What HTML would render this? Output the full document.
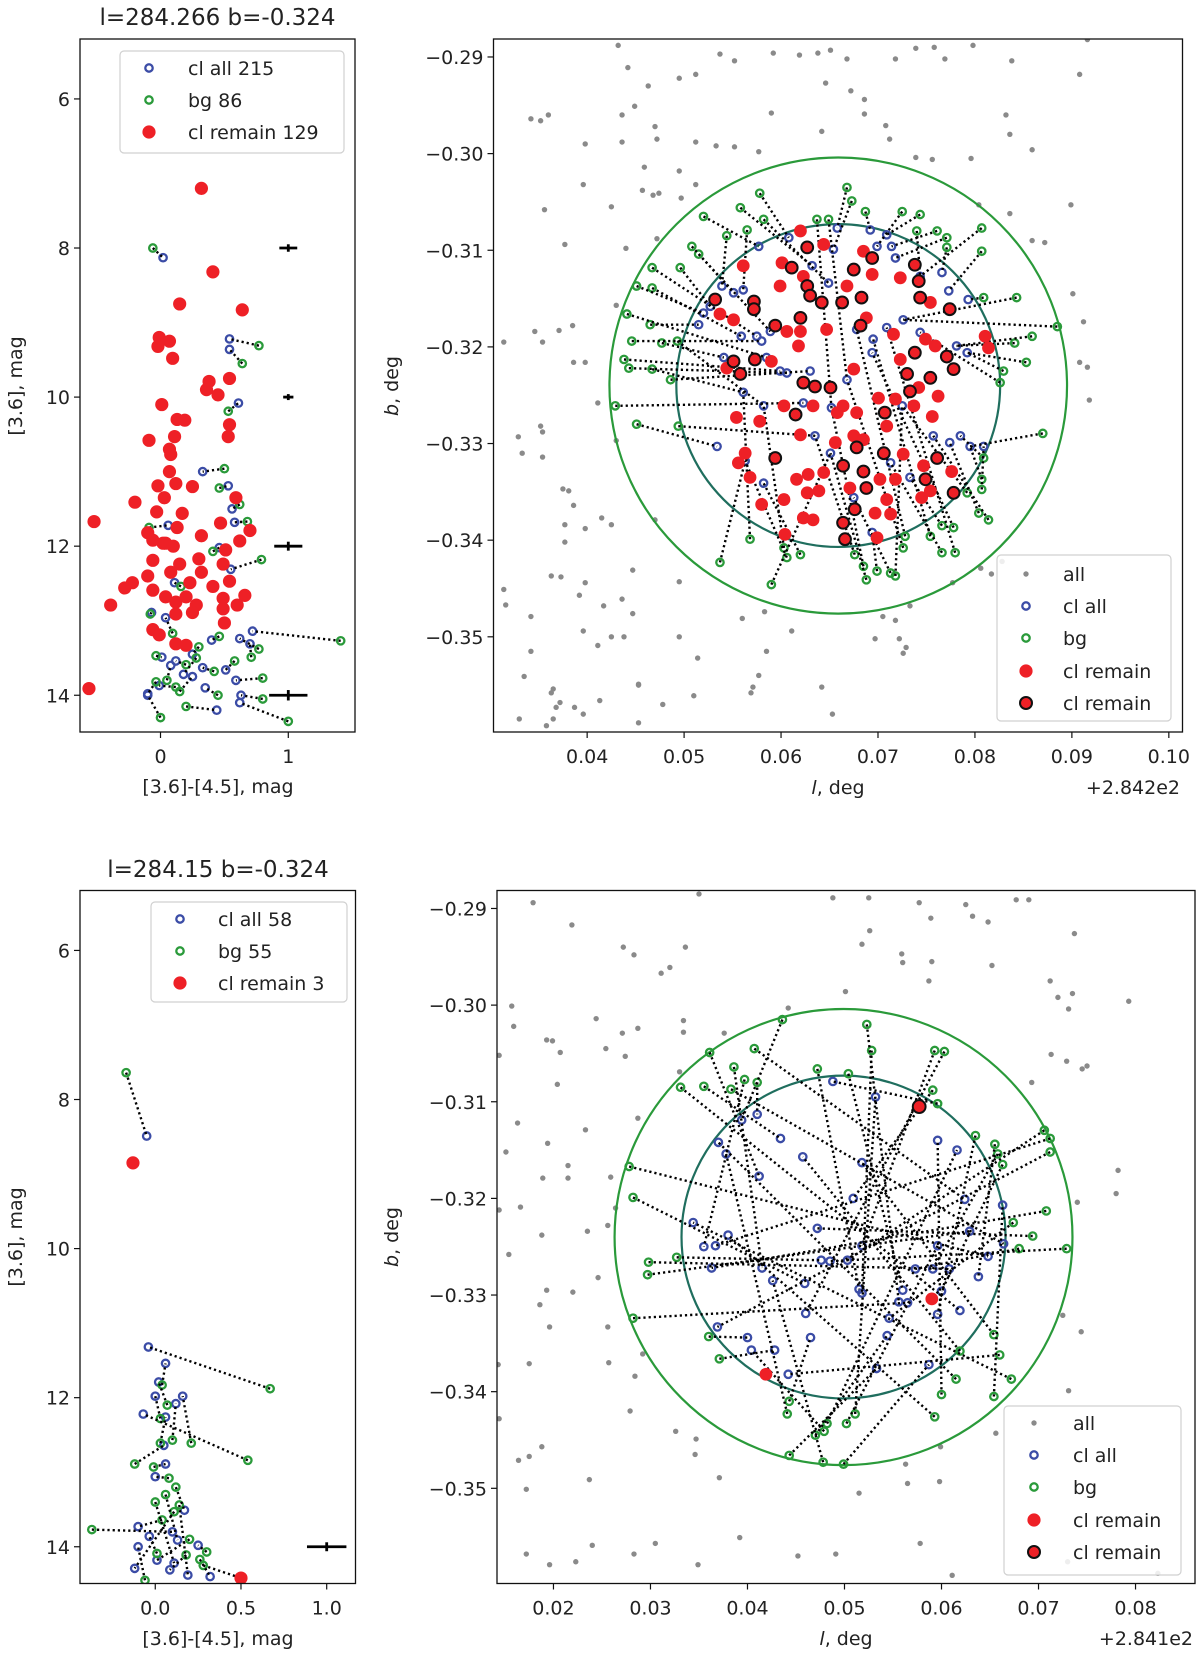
<!DOCTYPE html>
<html><head><meta charset="utf-8"><style>
html,body{margin:0;padding:0;background:#fff;}
svg{display:block;}
text{font-family:"DejaVu Sans","Liberation Sans",sans-serif;fill:#222;}
</style></head><body>
<svg id="fig" width="1200" height="1658" viewBox="0 0 1200 1658" xmlns="http://www.w3.org/2000/svg"></svg>
<script>
// ===== TOP-LEFT CMD data =====
const tlRedC=[.32,.41,.15,.64,-.01,.07,-.02,.095,.38,.54,.36,.45,.01,.13,.19,.54,.53,.11,-.09,.07,.08,.07,-.02,.12,.25,.03,-.20,.59,-.03,.17,-.52,.13,.47,.70,-.06,.02,.32,.62,.10,.51,-.06,.15,.30,.49,-.10,.08,-.28,-.22,-.06,.23,.32,.41,.54,.66,-.39,.04,.12,.20,.28,.49,.60,-.06,-.01,.12,.25,.50,.12,.20,-.56,.49,.04,-.10];
const tlRedM=[7.20,8.32,8.75,8.83,9.20,9.25,9.32,9.48,9.79,9.75,9.90,9.97,10.10,10.30,10.31,10.37,10.53,10.53,10.58,10.70,10.77,11.0,11.19,11.16,11.2,11.35,11.41,11.35,11.54,11.56,11.67,11.75,11.69,11.79,11.92,11.96,11.86,11.93,12.0,12.05,12.19,12.24,12.17,12.24,12.40,12.35,12.56,12.49,12.59,12.49,12.35,12.54,12.47,12.66,12.79,12.68,12.75,12.68,12.79,12.84,12.79,13.12,13.19,12.91,12.89,13.03,13.31,13.33,13.91,12.70,11.96,11.82];
const tlClC=[.02,.54,.54,.61,.33,.53,.56,.58,.46,.55,.72,.06,-.07,.11,.04,.01,.25,.40,.62,.70,.12,.33,.51,.59,-.01,-.10,-.10,.63,.62,.44,.18,.08,.35,.25];
const tlClM=[8.13,9.22,9.36,10.08,11.0,11.19,11.50,11.68,12.02,12.31,13.14,11.72,12.89,12.49,12.96,13.49,13.45,13.26,13.24,13.31,13.54,13.63,13.66,13.80,13.87,13.98,14.0,14.0,14.1,14.2,13.72,13.6,13.9,13.75];
const tlBgC=[-.06,.77,.64,.53,.50,.46,.62,.68,.41,.79,1.41,-.09,-.08,.16,.095,-.035,.30,.46,.77,.71,.20,.42,.58,.80,.12,-.035,.0,.80,1.0,.20,.28,.05,.45,.15];
const tlBgM=[8.0,9.31,9.55,10.19,10.96,11.22,11.44,11.67,12.07,12.18,13.27,11.75,12.91,12.54,13.17,13.47,13.35,13.21,13.38,13.49,13.59,13.68,13.54,13.77,13.89,13.82,14.3,14.05,14.35,14.15,13.5,13.8,14.0,13.95];
const tlErrM=[8,10,12,14], tlErrX=[.07,.04,.11,.15], tlErrY=[.05,.04,.06,.07];

// ===== TOP-RIGHT sky data (l offset, b in millidegrees) =====
const trGrayL=[43.2,44.2,49.5,51.2,46.3,44.9,43.6,34.2,35.2,36.0,47.0,47.2,39.8,43.6,53.7,55.2,59.2,61.9,63.8,65.1,66.8,71.8,73.9,75.8,76.9,79.8,83.8,90.8,91.6,59.0,64.6,67.2,68.6,68.6,64.2,70.8,71.2,83.2,83.6,85.9,51.2,53.3,55.2,57.7,73.9,75.6,79.6,45.9,49.5,39.6,45.7,46.8,47.4,49.7,51.2,42.5,35.6,37.7,44.0,47.2,80.4,83.6,89.9,85.9,87.2,31.4,34.6,35.4,37.1,38.5,43.0,38.6,39.8,90.1,91.2,90.8,91.6,91.8,41.1,32.9,33.3,35.4,35.4,35.2,43.0,37.5,38.1,38.6,37.7,39.8,41.5,42.5,37.7,47.0,36.3,37.3,44.7,39.8,49.5,39.2,41.7,43.6,44.7,31.4,31.6,34.2,39.6,41.1,42.5,43.8,49.5,51.4,34.2,33.5,45.3,57.1,57.7,58.5,58.3,56.0,61.1,69.7,70.5,71.8,72.2,72.9,72.6,73.3,77.7,80.6,81.7,82.8,64.2,36.5,45.3,36.3,37.2,36.8,41.3,38.7,39.6,33.0,36.5,35.8,45.3,51.0,47.8,56.9,65.3];
const trGrayB=[-288.8,-291.1,-292.2,-291.8,-293.0,-295.1,-296.0,-296.4,-296.6,-296.0,-297.2,-298.5,-299.0,-298.8,-289.7,-290.4,-289.6,-289.8,-289.6,-289.3,-290.2,-290.2,-289.1,-289.0,-290.2,-288.8,-290.4,-291.8,-288.2,-295.8,-292.7,-293.5,-294.4,-295.9,-297.7,-297.1,-298.5,-296.0,-298.0,-299.6,-298.8,-299.2,-299.3,-299.8,-300.4,-300.6,-300.5,-301.4,-301.8,-303.2,-303.8,-304.3,-304.1,-304.6,-303.2,-305.5,-305.8,-309.4,-309.8,-308.8,-305.3,-306.2,-305.3,-309.0,-309.2,-319.5,-318.4,-319.5,-318.3,-317.8,-315.7,-321.6,-321.6,-314.5,-317.4,-321.6,-322.1,-325.5,-325.8,-329.3,-331.0,-328.8,-331.4,-328.2,-329.7,-334.7,-334.9,-336.4,-338.4,-338.8,-337.7,-338.4,-340.2,-337.9,-343.7,-343.8,-343.1,-344.4,-344.3,-345.7,-346.8,-346.1,-347.6,-345.1,-346.7,-347.9,-349.4,-350.9,-350.0,-350.0,-350.0,-352.2,-351.5,-354.1,-355.0,-355.2,-354.0,-351.5,-347.4,-348.1,-349.4,-350.2,-347.9,-348.3,-350.2,-351.1,-351.7,-346.8,-344.4,-342.9,-343.5,-342.2,-355.2,-355.4,-354.9,-355.8,-356.8,-357.3,-356.6,-357.3,-358.0,-358.5,-358.5,-359.2,-358.9,-356.1,-357.0,-355.8,-358.0];
const trClL=[65.8,69.2,70.9,69.9,71.4,60.8,57.7,65.4,63.2,64.9,71.8,76.6,74.35,77.3,79.3,53.9,55.1,56.1,52.0,51.5,52.7,58.9,57.5,55.9,58.0,54.1,58.5,59.9,56.1,58.2,63.0,66.8,67.8,69.5,70.9,72.6,74.35,78.1,79.2,69.4,72.5,75.7,77.4,78.5,80.9,79.5,71.3,73.3,53.4,56.3,58.2,63.5,65.1,69.4,67.5,60.6,62.3,65.2];
const trClB=[-307.7,-307.9,-308.4,-309.6,-309.6,-308.7,-309.6,-309.9,-311.6,-313.4,-310.8,-312.3,-312.7,-314.2,-315.1,-313.7,-314.4,-314.1,-316.5,-317.7,-315.8,-318.4,-318.9,-318.9,-319.4,-321.1,-321.1,-322.5,-324.7,-326.1,-322.5,-323.4,-318.2,-319.2,-318.0,-317.2,-318.5,-319.9,-320.6,-320.6,-326.1,-329.2,-329.9,-329.2,-330.3,-330.3,-332.0,-333.5,-330.3,-331.8,-334.1,-329.2,-331.0,-339.2,-335.6,-322.7,-325.8,-326.3];
const trBgL=[66.8,67.3,68.7,57.8,55.8,52.0,58.2,56.5,54.4,50.8,51.5,49.6,46.7,45.1,46.7,44.1,46.5,44.6,47.7,43.8,44.3,46.7,48.6,49.3,42.9,45.1,49.4,72.5,74.35,76.1,77.1,80.7,77.1,80.7,80.9,84.3,84.1,82.95,82.6,80.9,80.7,80.7,80.4,81.4,79.2,76.6,77.8,77.96,76.6,75.4,72.8,72.6,71.3,69.9,68.5,68.8,71.8,67.6,62.0,60.6,60.3,59.0,56.8,53.7,63.7,64.9,74.0,88.5,87.0,85.9,85.3];
const trBgB=[-303.5,-304.9,-306.0,-304.1,-305.6,-306.5,-306.8,-307.9,-308.5,-309.6,-310.4,-311.8,-311.8,-313.7,-313.9,-316.6,-317.7,-319.4,-319.6,-321.3,-322.2,-322.3,-323.4,-319.4,-326.1,-328.0,-328.2,-306.0,-306.3,-308.0,-308.7,-307.7,-309.7,-310.1,-314.9,-314.9,-319.6,-322.5,-323.7,-331.5,-333.7,-334.75,-337.2,-337.9,-335.1,-338.5,-338.7,-341.3,-341.3,-339.6,-339.6,-340.8,-343.4,-343.2,-342.7,-344.1,-343.7,-341.5,-341.5,-341.8,-340.8,-344.6,-339.9,-342.3,-306.8,-306.8,-308.0,-317.9,-328.95,-318.9,-321.6];
const trBgMatch=[0,7,1,5,8,6,9,17,15,16,21,20,22,18,23,26,19,24,25,27,55,28,30,29,56,48,51,3,2,4,10,12,11,13,14,35,37,38,36,43,45,44,42,41,40,47,39,34,46,33,32,31,54,53,57,52,40,51,50,49,29,52,28,49,57,31,12,35,45,37,38];
const trRedL=[62.0,62.7,64.4,68.5,69.4,56.1,60.1,61.1,62.3,67.5,69.4,72.3,73.8,74.2,59.9,62.7,63.0,64.2,66.3,66.8,68.3,74.35,75.4,77.4,53.2,57.2,57.2,53.7,55.1,59.4,60.6,62.0,62.0,61.8,64.7,68.2,68.8,71.6,74.9,75.9,81.05,81.4,77.1,77.8,73.8,72.3,73.0,75.4,73.3,74.2,76.2,55.1,54.4,55.8,57.3,59.0,62.3,63.5,65.1,67.5,70.05,71.8,73.7,75.6,60.3,61.5,63.3,65.8,66.4,67.8,70.7,55.4,57.8,62.0,65.6,67.5,67.8,68.5,70.6,70.9,72.6,74.7,76.1,77.6,59.4,56.3,55.6,56.8,61.6,62.8,64.4,66.4,68.5,67.1,68.8,70.2,71.8,74.9,77.8,74.5,75.4,62.7,63.9,60.3,58.0,62.3,63.3,67.6,69.7,71.3,66.4,60.4,66.6,69.9,70.9];
const trRedB=[-308.0,-309.7,-309.4,-310.1,-310.8,-311.6,-311.3,-311.8,-312.7,-312.0,-312.5,-312.85,-311.5,-313.2,-313.7,-313.7,-314.7,-315.4,-315.4,-313.7,-314.9,-314.9,-315.4,-316.1,-315.1,-315.3,-316.1,-316.6,-317.2,-317.8,-318.4,-317.0,-318.4,-319.9,-318.2,-317.8,-317.0,-318.7,-319.2,-319.9,-318.9,-320.1,-321.0,-322.3,-320.6,-321.3,-322.8,-323.2,-324.6,-324.2,-325.1,-321.5,-322.2,-322.8,-321.3,-321.5,-323.7,-324.1,-324.2,-322.3,-325.3,-325.4,-326.1,-327.2,-326.1,-327.0,-326.1,-326.8,-326.1,-326.8,-326.8,-327.3,-327.7,-329.1,-329.9,-329.2,-330.4,-329.6,-331.0,-328.2,-331.1,-332.3,-331.5,-332.9,-331.5,-331.0,-332.0,-333.5,-333.7,-333.2,-333.0,-332.3,-332.9,-334.6,-334.6,-333.7,-333.7,-333.7,-335.1,-335.6,-334.9,-335.1,-334.9,-335.8,-336.3,-337.7,-337.9,-336.8,-337.2,-337.3,-338.2,-339.4,-339.9,-339.75,-335.8];
const trRinged=[1,4,7,9,12,13,15,16,17,18,20,21,23,24,25,26,29,31,35,42,43,44,46,47,48,51,53,54,56,57,58,65,70,76,78,82,84,91,92,94,97,98,107,110,112];
const trCircle=[65.9,-324.0]; const trRadii=[16.7,23.6];

// ===== BOTTOM-LEFT CMD data =====
const blClC=[-.05,-.04,.06,.02,0,.12,.16,-.07,.06,.05,.06,0,.10,-.10,-.035,-.10,-.12,.085,.25,.19,.32,.13,.17,.11,.01,.50];
const blClM=[8.49,11.32,11.54,11.79,11.98,12.08,11.98,12.22,12.26,12.64,12.89,13.06,13.80,13.73,13.86,14.0,14.29,14.31,13.98,14.38,14.40,13.91,13.51,14.22,14.18,14.42];
const blBgC=[-.17,.67,.04,.07,.03,.10,.21,.54,.03,-.12,-.01,.08,-.37,.04,.01,-.06,.11,.18,.30,.14,.26,.06,.12,.0,.20,.28];
const blBgM=[7.64,11.88,11.83,12.10,12.28,12.57,12.61,12.84,12.61,12.89,12.93,13.08,13.77,13.64,14.09,14.45,13.53,14.11,14.07,13.44,14.17,13.30,13.20,13.40,13.90,14.25];
const blRedC=[-.13,.50], blRedM=[8.85,14.42];
const blErrM=[14], blErrX=[.115], blErrY=[.06];

// ===== BOTTOM-RIGHT sky data (millidegrees) =====
const brGrayL=[17.9,21.9,35.0,48.8,52.5,57.7,62.5,67.7,69.0,58.9,63.2,64.8,27.2,28.3,33.6,32.0,31.1,52.6,51.8,55.9,56.0,59.0,65.2,58.7,71.2,73.7,72.0,73.1,73.5,79.3,50.1,44.2,37.6,33.4,33.4,28.7,27.1,24.4,15.7,15.9,19.3,19.9,20.7,14.4,25.4,27.4,33.0,20.4,69.3,71.3,72.9,74.5,75.0,28.7,16.3,23.3,15.1,19.4,21.5,21.5,18.9,25.9,16.6,14.4,26.4,78.2,78.0,74.0,18.8,23.5,25.6,15.4,24.6,19.3,22.0,18.6,19.6,25.6,72.5,74.4,17.5,25.7,28.4,29.2,14.4,27.9,73.1,32.6,34.7,65.6,18.8,16.4,17.5,34.6,59.9,56.3,23.7,17.2,37.1,59.8,56.5,51.5,14.3,17.2,19.6,22.3,24.0,28.3,30.5,34.9,39.2,45.2,49.1,57.8,61.1,73.0,82.3];
const brGrayB=[-289.4,-291.7,-288.5,-288.9,-288.9,-289.4,-289.6,-289.1,-289.1,-291.0,-290.8,-291.4,-294.0,-294.8,-294.0,-296.1,-296.7,-292.3,-293.7,-294.7,-295.6,-295.5,-295.9,-297.5,-297.5,-292.6,-299.2,-300.4,-298.8,-299.6,-298.6,-300.3,-302.9,-301.6,-302.8,-302.4,-302.9,-301.4,-300.1,-302.2,-303.6,-303.7,-304.9,-305.2,-304.5,-305.3,-306.9,-308.2,-308.0,-305.1,-305.8,-306.6,-306.3,-311.7,-312.2,-312.9,-315.2,-314.3,-316.6,-317.9,-317.9,-317.8,-320.9,-321.2,-321.0,-317.1,-319.5,-320.4,-323.8,-323.4,-322.8,-325.8,-328.2,-329.5,-329.7,-331.0,-333.3,-333.3,-332.1,-333.8,-337.1,-337.0,-338.4,-336.1,-342.8,-342.0,-339.9,-344.1,-344.9,-344.3,-345.7,-347.1,-346.7,-346.5,-345.7,-347.5,-349.1,-350.1,-348.9,-349.3,-349.5,-350.5,-337.2,-356.8,-357.9,-357.6,-355.9,-356.8,-355.7,-357.9,-355.1,-357.0,-356.8,-355.7,-359.0,-357.6,-358.8];
const brClL=[48.8,53.2,41.0,39.4,43.4,59.6,61.6,37.0,37.8,45.7,51.8,41.2,50.9,62.4,66.3,34.4,47.2,62.9,38.0,35.5,36.7,51.8,59.6,66.4,47.6,48.5,50.3,64.8,36.3,41.5,42.6,45.9,57.3,59.1,60.8,63.8,51.5,51.8,56.0,60.0,55.6,56.5,59.6,61.9,46.0,54.6,36.9,40.0,40.4,42.8,46.5,54.4,44.2,53.3,58.7];
const brClB=[-307.9,-309.5,-311.3,-311.9,-313.8,-314.0,-315.0,-314.2,-315.4,-315.7,-316.3,-317.7,-320.0,-320.1,-320.7,-322.5,-323.1,-323.4,-323.8,-325.0,-324.9,-324.9,-324.9,-324.7,-326.4,-326.5,-326.4,-326.0,-327.2,-327.2,-328.5,-328.8,-327.3,-327.3,-327.3,-328.1,-329.4,-329.8,-329.5,-329.6,-330.7,-330.8,-332.0,-331.6,-331.9,-332.4,-333.3,-334.4,-335.7,-335.7,-334.4,-334.2,-338.2,-337.6,-337.2];
const brBgL=[43.6,52.3,36.1,40.7,52.8,59.3,60.3,38.6,47.2,50.4,39.7,41.0,33.1,35.5,38.3,59.1,59.6,70.6,71.2,63.5,65.5,65.8,71.2,66.3,27.8,28.2,70.8,67.4,69.4,68.0,72.9,29.8,29.7,32.7,28.2,36.0,37.1,65.4,66.0,61.9,61.5,67.2,65.4,60.0,59.3,44.3,44.1,51.1,50.2,48.2,47.9,47.0,44.3,47.8,49.9];
const brBgB=[-301.5,-302.0,-304.9,-304.5,-304.7,-304.7,-304.8,-306.4,-306.6,-307.1,-307.7,-308.0,-308.5,-308.4,-308.7,-308.8,-310.2,-312.95,-313.8,-313.5,-314.4,-315.4,-315.2,-316.5,-316.7,-319.9,-321.3,-322.5,-323.9,-325.2,-325.2,-326.6,-327.9,-326.1,-332.4,-334.3,-336.6,-334.1,-336.2,-335.8,-338.7,-338.7,-340.5,-340.3,-342.6,-341.0,-342.3,-342.3,-343.3,-343.3,-344.1,-344.5,-346.6,-347.3,-347.5];
const brBgMatch=[3,40,11,13,37,21,44,29,36,38,19,2,43,4,23,12,0,26,20,42,35,33,46,39,27,31,28,45,16,32,25,34,17,24,41,47,49,10,52,9,7,15,14,5,18,50,8,1,22,6,48,51,53,30,54];
const brRedL=[57.7,59.0,41.9], brRedB=[-310.5,-330.4,-338.2];
const brRinged=[0];
const brCircle=[49.9,-324.0]; const brRadii=[16.7,23.6];

// ===== tick arrays =====
const tlXTicks=[0,1], tlXLabels=["0","1"];
const cmdYTicks=[6,8,10,12,14], cmdYLabels=["6","8","10","12","14"];
const trXTicks=[40,50,60,70,80,90,100], trXLabels=["0.04","0.05","0.06","0.07","0.08","0.09","0.10"];
const skyYTicks=[-290,-300,-310,-320,-330,-340,-350], skyYLabels=["\u22120.29","\u22120.30","\u22120.31","\u22120.32","\u22120.33","\u22120.34","\u22120.35"];
const blXTicks=[0,0.5,1], blXLabels=["0.0","0.5","1.0"];
const brXTicks=[20,30,40,50,60,70,80], brXLabels=["0.02","0.03","0.04","0.05","0.06","0.07","0.08"];

const NS='http://www.w3.org/2000/svg';
const svg=document.getElementById('fig');
function mk(tag,attrs,parent){const e=document.createElementNS(NS,tag);for(const k in attrs)e.setAttribute(k,attrs[k]);(parent||svg).appendChild(e);return e;}
const BLUE='#3b4ca6', GREEN='#2a9a3a', RED='#ee2026', GRAY='#8a8a8a';

function panel(id,x0,y0,x1,y1,xa,xb,ya,yb){
  const sx=v=>x0+(v-xa)/(xb-xa)*(x1-x0);
  const sy=v=>y0+(v-ya)/(yb-ya)*(y1-y0);
  const cp=mk('clipPath',{id:'clip-'+id});
  mk('rect',{x:x0,y:y0,width:x1-x0,height:y1-y0},cp);
  const g=mk('g',{'clip-path':'url(#clip-'+id+')'});
  
  
  return {sx,sy,g,x0,y0,x1,y1,id};
}
function frame(p,xt,xl,yt,yl){
  const r=mk('rect',{x:p.x0,y:p.y0,width:p.x1-p.x0,height:p.y1-p.y0,fill:'none',stroke:'#111','stroke-width':1.3});
  
  
  xt.forEach((v,i)=>{const x=p.sx(v);
    const t=mk('line',{x1:x,x2:x,y1:p.y1,y2:p.y1+6,stroke:'#111','stroke-width':1.2});
    
    
    const tx=mk('text',{x:x,y:p.y1+31,'text-anchor':'middle','font-size':19});
    tx.textContent=xl[i];
    
    
  });
  yt.forEach((v,i)=>{const y=p.sy(v);
    const t=mk('line',{x1:p.x0-6,x2:p.x0,y1:y,y2:y,stroke:'#111','stroke-width':1.2});
    
    
    const tx=mk('text',{x:p.x0-10,y:y+7,'text-anchor':'end','font-size':19});
    tx.textContent=yl[i];
    
    
  });
}
function openPt(p,x,y,col,name){const c=mk('circle',{cx:p.sx(x),cy:p.sy(y),r:3.7,fill:'none',stroke:col,'stroke-width':2.3},p.g);
  
  }
function dotLine(p,xa,ya,xb,yb){const l=mk('line',{x1:p.sx(xa),y1:p.sy(ya),x2:p.sx(xb),y2:p.sy(yb),stroke:'#000','stroke-width':2.4,'stroke-dasharray':'2.2 3'},p.g);
  
  }
function redPt(p,x,y,r,ring){const c=mk('circle',{cx:p.sx(x),cy:p.sy(y),r:r,fill:RED},p.g);
  if(ring){c.setAttribute('stroke','#111');c.setAttribute('stroke-width',2);}
  
  }
function grayPt(p,x,y){const c=mk('circle',{cx:p.sx(x),cy:p.sy(y),r:2.7,fill:GRAY},p.g);
  
  }
function errbar(p,c,m,ex,ey){
  const h=mk('line',{x1:p.sx(c-ex),x2:p.sx(c+ex),y1:p.sy(m),y2:p.sy(m),stroke:'#000','stroke-width':2.8},p.g);
  
  
  const v=mk('line',{x1:p.sx(c),x2:p.sx(c),y1:p.sy(m-ey),y2:p.sy(m+ey),stroke:'#000','stroke-width':2.8},p.g);
  
  }
function text(x,y,s,size,anchor,name,rot){const t=mk('text',{x:x,y:y,'font-size':size,'text-anchor':anchor||'middle'});
  if(rot)t.setAttribute('transform','rotate(-90 '+x+' '+y+')');
  t.textContent=s;
  
  return t;}
function italLabel(x,y,it,rest,name,rot){const t=mk('text',{x:x,y:y,'font-size':19,'text-anchor':'middle'});
  if(rot)t.setAttribute('transform','rotate(-90 '+x+' '+y+')');
  const a=mk('tspan',{'font-style':'italic'},t);a.textContent=it;
  const b=mk('tspan',{},t);b.textContent=rest;
  
  }
function legend(x,y,w,h,entries,mx,tx,name){
  const g=mk('g',{});
  
  
  mk('rect',{x:x,y:y,width:w,height:h,rx:4,fill:'#fff','fill-opacity':0.85,stroke:'#d0d0d0','stroke-width':1.2},g);
  entries.forEach(e=>{
    let c;
    if(e.t==='gray')c=mk('circle',{cx:mx,cy:e.y,r:2.7,fill:GRAY},g);
    else if(e.t==='blue')c=mk('circle',{cx:mx,cy:e.y,r:3.7,fill:'none',stroke:BLUE,'stroke-width':2.3},g);
    else if(e.t==='green')c=mk('circle',{cx:mx,cy:e.y,r:3.7,fill:'none',stroke:GREEN,'stroke-width':2.3},g);
    else if(e.t==='red')c=mk('circle',{cx:mx,cy:e.y,r:6.6,fill:RED},g);
    else c=mk('circle',{cx:mx,cy:e.y,r:6,fill:RED,stroke:'#111','stroke-width':2},g);
    
    
    const t=mk('text',{x:tx,y:e.y+7,'font-size':19},g);t.textContent=e.s;
    
    
  });
}
function circles(p,center,radii){
  const cols=['#1f6e5e',GREEN];
  radii.forEach((r,i)=>{
    const e=mk('ellipse',{cx:p.sx(center[0]),cy:p.sy(center[1]),rx:Math.abs(p.sx(center[0]+r)-p.sx(center[0])),ry:Math.abs(p.sy(center[1]+r)-p.sy(center[1])),fill:'none',stroke:cols[i],'stroke-width':2.2},p.g);
    
    
  });
}

// ---------- TOP-LEFT CMD ----------
(function(){
  const p=panel('cmd-top',80,39,355,732,-0.630,1.522,5.196,14.493);
  tlClC.forEach((c,i)=>openPt(p,c,tlClM[i],BLUE,'cl-all-point'));
  tlBgC.forEach((c,i)=>openPt(p,c,tlBgM[i],GREEN,'bg-point'));
  tlBgC.forEach((c,i)=>dotLine(p,c,tlBgM[i],tlClC[i],tlClM[i]));
  tlRedC.forEach((c,i)=>redPt(p,c,tlRedM[i],6.6,false));
  tlErrM.forEach((m,i)=>errbar(p,1,m,tlErrX[i],tlErrY[i]));
  frame(p,tlXTicks,tlXLabels,cmdYTicks,cmdYLabels);
  text(217.5,25,'l=284.266 b=-0.324',23,'middle','cmd-top-title');
  text(218,793,'[3.6]-[4.5], mag',19,'middle','cmd-top-x-axis-title');
  text(22,386,'[3.6], mag',19,'middle','cmd-top-y-axis-title',true);
  legend(120,51,224,102,[{t:'blue',y:68,s:'cl all 215'},{t:'green',y:100,s:'bg 86'},{t:'red',y:132,s:'cl remain 129'}],149,188,'cmd-top-legend');
})();

// ---------- TOP-RIGHT SKY ----------
(function(){
  const p=panel('sky-top',493.5,39,1182.5,732,30.34,101.41,-288.14,-359.85);
  trGrayL.forEach((l,i)=>grayPt(p,l,trGrayB[i]));
  circles(p,trCircle,trRadii);
  trClL.forEach((l,i)=>openPt(p,l,trClB[i],BLUE,'cl-all-point'));
  trBgL.forEach((l,i)=>openPt(p,l,trBgB[i],GREEN,'bg-point'));
  trBgL.forEach((l,i)=>{const j=trBgMatch[i];dotLine(p,l,trBgB[i],trClL[j],trClB[j]);});
  trRedL.forEach((l,i)=>redPt(p,l,trRedB[i],6.4,false));
  trRinged.forEach(i=>redPt(p,trRedL[i],trRedB[i],5.9,true));
  frame(p,trXTicks,trXLabels,skyYTicks,skyYLabels);
  italLabel(838,794,'l',', deg','sky-top-x-axis-title');
  italLabel(398,386,'b',', deg','sky-top-y-axis-title',true);
  text(1180,794,'+2.842e2',19,'end','sky-top-x-offset');
  legend(997,555,174,166,[{t:'gray',y:574,s:'all'},{t:'blue',y:606,s:'cl all'},{t:'green',y:638,s:'bg'},{t:'red',y:671,s:'cl remain'},{t:'ring',y:703,s:'cl remain'}],1026,1063,'sky-top-legend');
})();

// ---------- BOTTOM-LEFT CMD ----------
(function(){
  const p=panel('cmd-bottom',80,890.5,355.5,1583.5,-0.439,1.168,5.196,14.493);
  blClC.forEach((c,i)=>openPt(p,c,blClM[i],BLUE,'cl-all-point'));
  blBgC.forEach((c,i)=>openPt(p,c,blBgM[i],GREEN,'bg-point'));
  blBgC.forEach((c,i)=>dotLine(p,c,blBgM[i],blClC[i],blClM[i]));
  blRedC.forEach((c,i)=>redPt(p,c,blRedM[i],6.6,false));
  blErrM.forEach((m,i)=>errbar(p,1,m,blErrX[i],blErrY[i]));
  frame(p,blXTicks,blXLabels,cmdYTicks,cmdYLabels);
  text(218,877,'l=284.15 b=-0.324',23,'middle','cmd-bottom-title');
  text(218,1645,'[3.6]-[4.5], mag',19,'middle','cmd-bottom-x-axis-title');
  text(22,1237,'[3.6], mag',19,'middle','cmd-bottom-y-axis-title',true);
  legend(151,902,196,100,[{t:'blue',y:919,s:'cl all 58'},{t:'green',y:951,s:'bg 55'},{t:'red',y:983,s:'cl remain 3'}],180,218,'cmd-bottom-legend');
})();

// ---------- BOTTOM-RIGHT SKY ----------
(function(){
  const p=panel('sky-bottom',497,890.5,1195,1583.5,14.18,86.13,-288.14,-359.85);
  brGrayL.forEach((l,i)=>grayPt(p,l,brGrayB[i]));
  circles(p,brCircle,brRadii);
  brClL.forEach((l,i)=>openPt(p,l,brClB[i],BLUE,'cl-all-point'));
  brBgL.forEach((l,i)=>openPt(p,l,brBgB[i],GREEN,'bg-point'));
  brBgL.forEach((l,i)=>{const j=brBgMatch[i];dotLine(p,l,brBgB[i],brClL[j],brClB[j]);});
  brRedL.forEach((l,i)=>redPt(p,l,brRedB[i],6.4,brRinged.indexOf(i)>=0));
  frame(p,brXTicks,brXLabels,skyYTicks,skyYLabels);
  italLabel(846,1645,'l',', deg','sky-bottom-x-axis-title');
  italLabel(398,1237,'b',', deg','sky-bottom-y-axis-title',true);
  text(1193,1645,'+2.841e2',19,'end','sky-bottom-x-offset');
  legend(1004,1406,177,169,[{t:'gray',y:1423,s:'all'},{t:'blue',y:1455,s:'cl all'},{t:'green',y:1487,s:'bg'},{t:'red',y:1520,s:'cl remain'},{t:'ring',y:1552,s:'cl remain'}],1034,1073,'sky-bottom-legend');
})();
</script>
</body></html>
